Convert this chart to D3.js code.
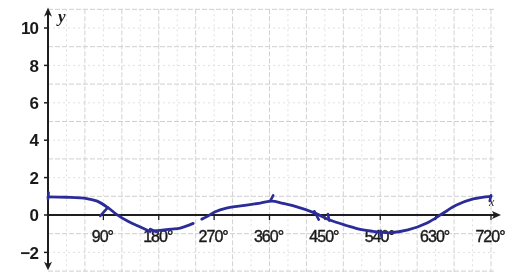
<!DOCTYPE html>
<html>
<head>
<meta charset="utf-8">
<script src="https://cdn.jsdelivr.net/npm/d3@7"></script>
<style>
	body { margin: 0; background: #fff; }
	svg { display: block; filter: blur(0.4px); }
	.tick-label { font-family: "Liberation Sans", Arial, sans-serif; fill: #1a1a1a; }
</style>
</head>
<body>
<svg id="chart" width="515" height="274"></svg>
<script>
// x in degrees, y values
const xTicks = [90, 180, 270, 360, 450, 540, 630, 720]
const xTickLabels = ['90°', '180°', '270°', '360°', '450°', '540°', '630°', '720°']
const yTicks = [-2, 0, 2, 4, 6, 8, 10]
const yTickLabels = ['\u22122', '0', '2', '4', '6', '8', '10']

// the pen line is broken in a couple of places so keep the pieces apart
const segA = [[0, 0.97], [30, 0.95], [63, 0.88], [80, 0.74], [98, 0.38], [112, 0.02], [130, -0.34], [150, -0.64], [166, -0.88]]
const segB = [[170, -0.86], [182, -0.82], [200, -0.76], [215, -0.7], [236, -0.45]]
const segC = [[250, -0.22], [260, -0.06], [271, 0.16], [290, 0.37], [320, 0.52], [345, 0.64], [364, 0.74], [380, 0.64],
	[398, 0.5], [434, 0.1], [458, -0.27], [485, -0.56], [512, -0.8], [540, -0.92], [556, -0.95], [585, -0.8],
	[616, -0.43], [640, 0.05], [664, 0.53], [691, 0.86], [720, 1.0]]
// little pen strokes: [deg1, val1, deg2, val2]
const penMarks = [
	[0, 0.85, 1, 1.2],
	[85, -0.05, 97, 0.4],
	[166, -0.75, 176, -0.9],
	[362, 0.8, 366, 1.05],
	[433, 0.2, 440, -0.25],
	[455, 0.05, 457, -0.3],
	[541, -0.85, 542, -1.15],
	[720, 1.05, 718, 0.75]
]

const svg = d3.select('#chart')
const x = d3.scaleLinear().domain([0, 720]).range([48, 491])
const y = d3.scaleLinear().domain([0, 10]).range([215, 28])

// grid
const grid = svg.append('g')
d3.range(-3, 12).forEach(v => {
	grid.append('line')
		.attr('x1', x(0)).attr('x2', x(720) + 4)
		.attr('y1', y(v)).attr('y2', y(v))
		.attr('stroke', v % 2 ? '#cfcfcf' : '#e0e0e0')
		.attr('stroke-width', 1)
		.attr('stroke-dasharray', v % 2 ? '5,2' : '2,3')
})
d3.range(30, 721, 30).forEach(d => {
	grid.append('line')
		.attr('x1', x(d)).attr('x2', x(d))
		.attr('y1', y(11)).attr('y2', y(-3.05))
		.attr('stroke', (d / 30) % 2 ? '#e0e0e0' : '#d2d2d2')
		.attr('stroke-width', 1)
		.attr('stroke-dasharray', (d / 30) % 2 ? '2,3' : '5,2')
})

// axes
const axisCol = '#1e1e1e'
svg.append('line')
	.attr('x1', x(0)).attr('x2', x(720) + 6)
	.attr('y1', y(0)).attr('y2', y(0))
	.attr('stroke', axisCol).attr('stroke-width', 1.8)
svg.append('path')
	.attr('d', `M${x(720) + 10},${y(0)} L${x(720) + 1},${y(0) - 4} L${x(720) + 3},${y(0)} L${x(720) + 1},${y(0) + 4} Z`)
	.attr('fill', axisCol)
svg.append('line')
	.attr('x1', x(0)).attr('x2', x(0))
	.attr('y1', y(10.9)).attr('y2', y(-2.75))
	.attr('stroke', axisCol).attr('stroke-width', 2)
svg.append('path')
	.attr('d', `M${x(0)},${y(11.1)} L${x(0) - 4},${y(10.6)} L${x(0)},${y(10.75)} L${x(0) + 4},${y(10.6)} Z`)
	.attr('fill', axisCol)
svg.append('path')
	.attr('d', `M${x(0)},${y(-2.95)} L${x(0) - 4},${y(-2.5)} L${x(0)},${y(-2.62)} L${x(0) + 4},${y(-2.5)} Z`)
	.attr('fill', axisCol)

// ticks
yTicks.forEach((v, i) => {
	svg.append('line')
		.attr('x1', x(0) - 4).attr('x2', x(0))
		.attr('y1', y(v)).attr('y2', y(v))
		.attr('stroke', axisCol).attr('stroke-width', 1.5)
	svg.append('text')
		.attr('class', 'tick-label')
		.attr('x', x(0) - 10).attr('y', y(v))
		.attr('dy', '0.36em')
		.attr('text-anchor', 'end')
		.attr('font-size', 17)
		.attr('font-weight', 'bold')
		.attr('letter-spacing', -1)
		.text(yTickLabels[i])
})
xTicks.forEach((d, i) => {
	svg.append('line')
		.attr('x1', x(d)).attr('x2', x(d))
		.attr('y1', y(0)).attr('y2', y(0) + 5)
		.attr('stroke', axisCol).attr('stroke-width', 1.3)
	svg.append('text')
		.attr('class', 'tick-label')
		.attr('x', x(d) - 1).attr('y', y(0) + 27)
		.attr('text-anchor', 'middle')
		.attr('font-size', 16)
		.attr('letter-spacing', -1)
		.attr('stroke', '#1a1a1a')
		.attr('stroke-width', 0.4)
		.text(xTickLabels[i])
})

// axis names
svg.append('text')
	.attr('x', x(0) + 10).attr('y', y(10.3))
	.attr('font-family', '"Liberation Serif", serif')
	.attr('font-style', 'italic').attr('font-weight', 'bold')
	.attr('font-size', 17).attr('fill', axisCol)
	.text('y')
svg.append('text')
	.attr('x', x(720) - 2).attr('y', y(0.5))
	.attr('font-family', '"Liberation Serif", serif')
	.attr('font-style', 'italic')
	.attr('font-size', 12).attr('fill', axisCol)
	.text('x')

// the pen curve
const penCol = '#2c2c98'
const line = d3.line()
	.x(d => x(d[0]))
	.y(d => y(d[1]))
	.curve(d3.curveCatmullRom)
;[segA, segB, segC].forEach(s => {
	svg.append('path')
		.attr('d', line(s))
		.attr('fill', 'none')
		.attr('stroke', penCol)
		.attr('stroke-width', 2.8)
		.attr('stroke-linecap', 'round')
		.attr('stroke-linejoin', 'round')
})
penMarks.forEach(m => {
	svg.append('line')
		.attr('x1', x(m[0])).attr('y1', y(m[1]))
		.attr('x2', x(m[2])).attr('y2', y(m[3]))
		.attr('stroke', penCol)
		.attr('stroke-width', 2.6)
		.attr('stroke-linecap', 'round')
})
</script>
</body>
</html>
